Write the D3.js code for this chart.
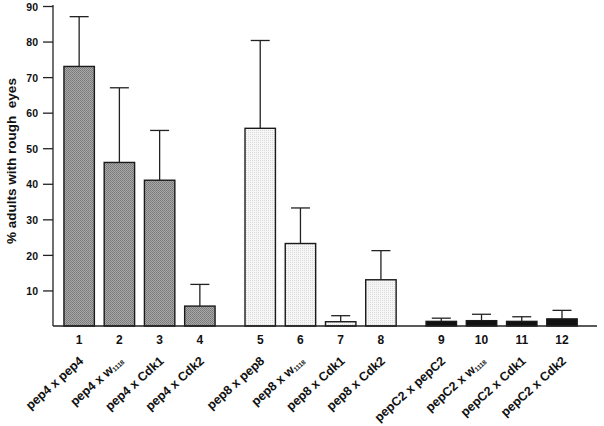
<!DOCTYPE html>
<html><head><meta charset="utf-8">
<script src="https://cdn.jsdelivr.net/npm/d3@7/dist/d3.min.js"></script>
<style>body{margin:0;background:#fff}svg{display:block}</style>
</head><body>
<svg id="chart" width="604" height="426"></svg>
<script>
const categories = ["pep4 x pep4","pep4 x w1118","pep4 x Cdk1","pep4 x Cdk2",
  "pep8 x pep8","pep8 x w1118","pep8 x Cdk1","pep8 x Cdk2",
  "pepC2 x pepC2","pepC2 x w1118","pepC2 x Cdk1","pepC2 x Cdk2"];
const numbers = ["1","2","3","4","5","6","7","8","9","10","11","12"];
const groups = [0,0,0,0,1,1,1,1,2,2,2,2];
const means = [73,46,41,5.6,55.6,23.2,1.2,13,1.3,1.5,1.3,2];
const upper = [87,67,55,11.7,80.3,33.2,2.9,21.2,2.2,3.3,2.6,4.4];
const yTicks = [10,20,30,40,50,60,70,80,90];
const yTitle = "% adults with rough  eyes";

const svg = d3.select("#chart");
const font = "'Liberation Sans', Arial, Helvetica, sans-serif";

const defs = svg.append("defs");
const p1 = defs.append("pattern").attr("id","pat0").attr("width",2).attr("height",2).attr("patternUnits","userSpaceOnUse");
p1.append("rect").attr("width",2).attr("height",2).attr("fill","#a8a8a8");
p1.append("rect").attr("x",0).attr("y",0).attr("width",1).attr("height",1).attr("fill","#787878");
p1.append("rect").attr("x",1).attr("y",1).attr("width",1).attr("height",1).attr("fill","#828282");
const p2 = defs.append("pattern").attr("id","pat1").attr("width",2).attr("height",2).attr("patternUnits","userSpaceOnUse");
p2.append("rect").attr("width",2).attr("height",2).attr("fill","#f6f6f6");
p2.append("rect").attr("x",0).attr("y",0).attr("width",1).attr("height",1).attr("fill","#dadada");
const fills = ["url(#pat0)","url(#pat1)","#111"];

const slot = categories.map((c,i) => i + groups[i]*0.5);
const x = d3.scaleLinear().domain([-0.65, 12.87]).range([53, 597]);
const y = d3.scaleLinear().domain([0, 90]).range([326, 6]);
const halfW = 0.378;

// bars
svg.append("g").selectAll("rect").data(categories).join("rect")
  .attr("x", (d,i) => x(slot[i]-halfW))
  .attr("width", (d,i) => x(slot[i]+halfW) - x(slot[i]-halfW))
  .attr("y", (d,i) => y(means[i]))
  .attr("height", (d,i) => y(0) - y(means[i]))
  .attr("fill", (d,i) => fills[groups[i]])
  .attr("stroke", "#1a1a1a").attr("stroke-width", 1.4);

// error bars
const eb = svg.append("g").attr("stroke","#222").attr("stroke-width",1.3);
eb.selectAll("line.v").data(categories).join("line").attr("class","v")
  .attr("x1",(d,i)=>x(slot[i])).attr("x2",(d,i)=>x(slot[i]))
  .attr("y1",(d,i)=>y(means[i])).attr("y2",(d,i)=>y(upper[i]));
eb.selectAll("line.c").data(categories).join("line").attr("class","c")
  .attr("x1",(d,i)=>x(slot[i])-9.5).attr("x2",(d,i)=>x(slot[i])+9.5)
  .attr("y1",(d,i)=>y(upper[i])).attr("y2",(d,i)=>y(upper[i]));

// y axis
const yAxis = d3.axisLeft(y).tickValues(yTicks).tickSize(10).tickPadding(5);
const ya = svg.append("g").attr("transform","translate(53,0)").call(yAxis);
ya.select(".domain").attr("d", `M0,${y(90)-1}V${y(0)}`).attr("stroke","#222").attr("stroke-width",1.3);
ya.selectAll(".tick line").attr("stroke","#222").attr("stroke-width",1.3);
ya.selectAll(".tick text").attr("font-family",font).attr("font-weight","bold").attr("font-size",10.5).attr("fill","#111").attr("dy","0.4em");

// x baseline
svg.append("line").attr("x1",53).attr("x2",597).attr("y1",y(0)).attr("y2",y(0))
  .attr("stroke","#222").attr("stroke-width",1.3);

// numbers
svg.append("g").selectAll("text").data(numbers).join("text")
  .attr("x",(d,i)=>x(slot[i])).attr("y",344)
  .attr("text-anchor","middle").attr("font-family",font).attr("font-weight","bold")
  .attr("font-size",12).attr("fill","#111").text(d=>d);

// rotated category labels
const lab = svg.append("g").selectAll("text").data(categories).join("text")
  .attr("transform",(d,i)=>`translate(${x(slot[i])+5},${362}) rotate(-42)`)
  .attr("text-anchor","end").attr("font-family",font).attr("font-weight","bold")
  .attr("font-size",12.5).attr("fill","#111");
lab.each(function(d){
  const t = d3.select(this);
  const m = d.match(/^(.*w)(1118)$/);
  if (m) {
    t.append("tspan").text(m[1]);
    t.append("tspan").attr("font-size",6.5).attr("dy",1).text(m[2]);
  } else {
    t.text(d);
  }
});

// y title
svg.append("text").attr("transform","translate(16,161) rotate(-90)")
  .attr("text-anchor","middle").attr("font-family",font).attr("font-weight","bold")
  .attr("font-size",13.5).attr("fill","#111").attr("xml:space","preserve")
  .style("white-space","pre").text(yTitle);
</script>
</body></html>
